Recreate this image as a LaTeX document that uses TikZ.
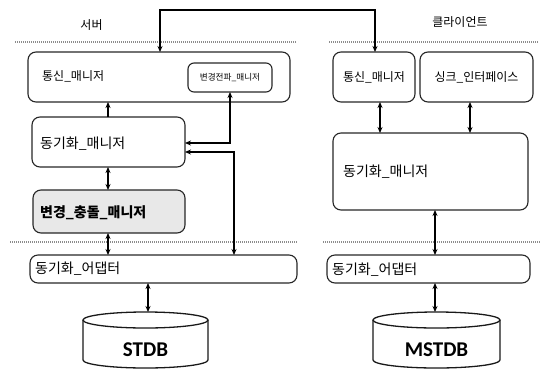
\documentclass[tikz,border=0pt]{standalone}
\usepackage{fontspec}
\newfontfamily\krfont{Noto Sans CJK KR}
\newfontfamily\carlfont{Carlito}
\usetikzlibrary{arrows.meta}
\begin{document}
\begin{tikzpicture}[x=1pt,y=1pt,
  box/.style={draw=black!85, line width=1.1pt, rounded corners=8pt, inner sep=0pt, outer sep=0pt, anchor=north west},
  lbl/.style={inner sep=0pt, anchor=west, font=\krfont\fontsize{14}{14}\selectfont},
  dbl/.style={line width=1.5pt, {Stealth[length=6pt,width=5pt]}-{Stealth[length=6pt,width=5pt]}},
  sgl/.style={line width=1.5pt, -{Stealth[length=6pt,width=5pt]}},
  sep/.style={draw=black!45, line width=1.2pt, dash pattern=on 1pt off 1pt},
  cyl/.style={draw=black!90, line width=1.3pt},
  dbtext/.style={font=\carlfont\bfseries\fontsize{21}{21}\selectfont, inner sep=0pt}]
\useasboundingbox (0,0) rectangle (543,-370);
% separators
\coordinate (s1a) at (15,-42); \coordinate (s1b) at (297,-42);
\coordinate (s1c) at (329,-42); \coordinate (s1d) at (538,-42);
\coordinate (s2a) at (10,-242); \coordinate (s2b) at (297,-242);
\coordinate (s2c) at (323,-242); \coordinate (s2d) at (540,-242);
\draw[sep] (s1a) -- (s1b); \draw[sep] (s1c) -- (s1d);
\draw[sep] (s2a) -- (s2b); \draw[sep] (s2c) -- (s2d);
% headings
\node[inner sep=0pt, font=\krfont\fontsize{12}{12}\selectfont] (hS) at (91.5,-25) {서버};
\node[inner sep=0pt, font=\krfont\fontsize{12}{12}\selectfont] (hC) at (460,-22) {클라이언트};
% server boxes
\node[box, minimum width=262pt, minimum height=50pt] (sCom) at (28,-52) {};
\node[lbl, font=\krfont\fontsize{12}{12}\selectfont] (sComT) at (42,-76) {통신\_매니저};
\node[box, rounded corners=6pt, minimum width=84pt, minimum height=29pt] (sProp) at (188,-63) {};
\node[inner sep=0pt, font=\krfont\fontsize{8.6}{9}\selectfont] (sPropT) at (sProp.center) {변경전파\_매니저};
\node[box, minimum width=153pt, minimum height=50pt] (sSync) at (32,-117) {};
\node[lbl] (sSyncT) at (40,-144) {동기화\_매니저};
\node[box, fill=black!9, minimum width=152pt, minimum height=43pt] (sConf) at (33,-190) {};
\node[lbl, font=\krfont\bfseries\fontsize{14}{14}\selectfont] (sConfT) at (40,-213) {변경\_충돌\_매니저};
\node[box, minimum width=267pt, minimum height=28pt] (sAdp) at (30,-255) {};
\node[lbl] (sAdpT) at (35,-269) {동기화\_어댑터};
% client boxes
\node[box, minimum width=82pt, minimum height=50pt] (cCom) at (333,-52) {};
\node[inner sep=0pt, font=\krfont\fontsize{12}{12}\selectfont] (cComT) at (cCom.center) {통신\_매니저};
\node[box, minimum width=113pt, minimum height=50pt] (cSink) at (420,-52) {};
\node[inner sep=0pt, font=\krfont\fontsize{12}{12}\selectfont] (cSinkT) at (cSink.center) {싱크\_인터페이스};
\node[box, minimum width=195pt, minimum height=77pt] (cSync) at (333,-133) {};
\node[lbl] (cSyncT) at (343,-172) {동기화\_매니저};
\node[box, minimum width=203pt, minimum height=28pt] (cAdp) at (327,-255) {};
\node[lbl] (cAdpT) at (332,-270) {동기화\_어댑터};
% databases
\node[inner sep=0pt, outer sep=0pt, minimum width=125pt, minimum height=56pt] (stdb) at (145.5,-340) {};
\draw[cyl] ([yshift=-8pt]stdb.north west) -- ([yshift=8pt]stdb.south west)
  arc[start angle=180, end angle=360, x radius=62.5, y radius=8] -- ([yshift=-8pt]stdb.north east);
\draw[cyl] ([yshift=-8pt]stdb.north) ellipse [x radius=62.5, y radius=8];
\node[dbtext] (stdbT) at (145.5,-350) {STDB};
\node[inner sep=0pt, outer sep=0pt, minimum width=127pt, minimum height=56pt] (mstdb) at (436.5,-340) {};
\draw[cyl] ([yshift=-8pt]mstdb.north west) -- ([yshift=8pt]mstdb.south west)
  arc[start angle=180, end angle=360, x radius=63.5, y radius=8] -- ([yshift=-8pt]mstdb.north east);
\draw[cyl] ([yshift=-8pt]mstdb.north) ellipse [x radius=63.5, y radius=8];
\node[dbtext] (mstdbT) at (436.5,-350) {MSTDB};
% connectors
\coordinate (t1) at (160,-10); \coordinate (t2) at (375,-10);
\draw[dbl] (sCom.north -| t1) -- (t1) -- (t2) -- (cCom.north -| t2);
\coordinate (xa) at (108,0);
\draw[sgl] (sSync.north -| xa) -- (sCom.south -| xa);
\draw[dbl] (sSync.south -| xa) -- (sConf.north -| xa);
\draw[dbl] (sConf.south -| xa) -- (sAdp.north -| xa);
\coordinate (k1) at (230,-143);
\draw[dbl] (sProp.south -| k1) -- (k1) -- (k1 -| sSync.east);
\coordinate (k2) at (234,-152);
\draw[dbl] (k2 -| sSync.east) -- (k2) -- (sAdp.north -| k2);
\coordinate (xb) at (148,0);
\draw[dbl] (sAdp.south -| xb) -- (stdb.north -| xb);
\coordinate (xc) at (380,0); \coordinate (xd) at (470,0); \coordinate (xe) at (435,0);
\draw[dbl] (cCom.south -| xc) -- (cSync.north -| xc);
\draw[dbl] (cSink.south -| xd) -- (cSync.north -| xd);
\draw[dbl] (cSync.south -| xe) -- (cAdp.north -| xe);
\draw[dbl] (cAdp.south -| xe) -- (mstdb.north -| xe);
\end{tikzpicture}
\end{document}
